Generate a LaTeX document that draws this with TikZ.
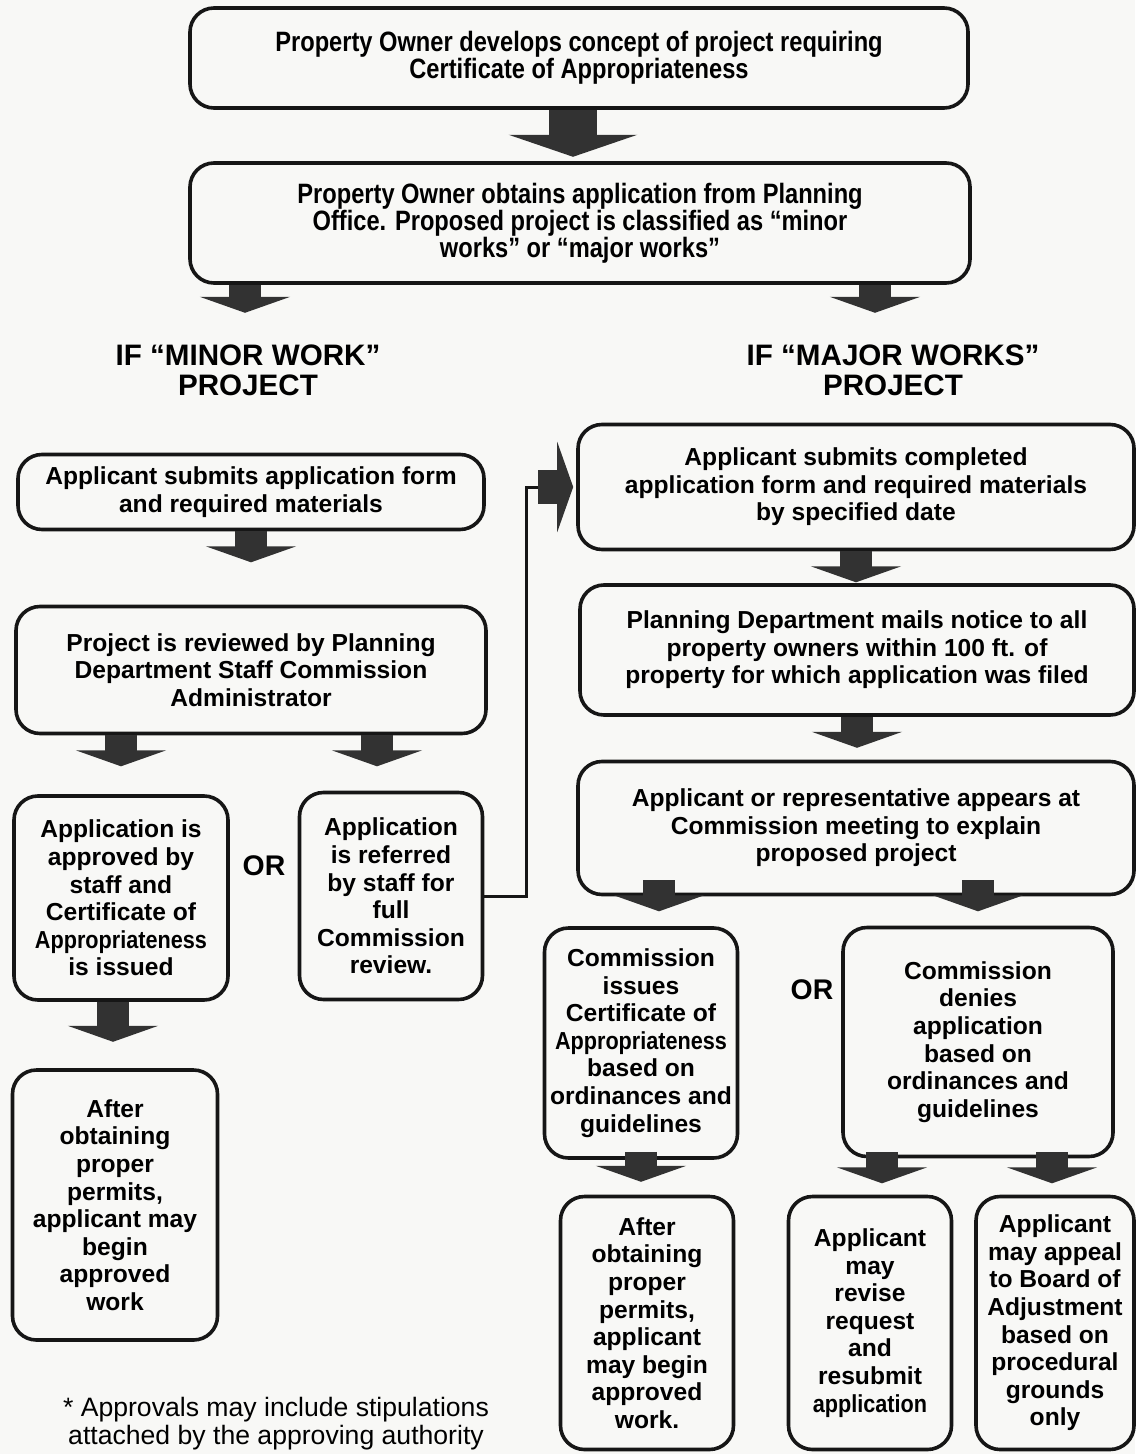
\documentclass[tikz,border=0pt]{standalone}
\usepackage{fontspec}
\setmainfont{Liberation Sans}
\newfontface\narrowfont[FakeStretch=0.845]{Liberation Sans Bold}
\newfontface\tightfont[FakeStretch=0.88]{Liberation Sans Bold}
\usetikzlibrary{arrows.meta,backgrounds}
\definecolor{arrowgray}{RGB}{50,50,50}
\definecolor{inkblack}{RGB}{22,22,22}
\definecolor{paper}{RGB}{248,248,246}

\begin{document}
\begin{tikzpicture}[x=0.5pt, y=-0.5pt,
  stepbox/.style={draw=inkblack, line width=1.8pt, rounded corners=12pt, align=center,
                  inner sep=0pt, font=\fontsize{12.3}{13.8}\selectfont\bfseries},
  topbox/.style={stepbox, font=\narrowfont\fontsize{14}{13.6}\selectfont},
  heading/.style={align=center, font=\fontsize{14.8}{15}\selectfont\bfseries},
  orlabel/.style={font=\fontsize{14.2}{15}\selectfont\bfseries},
  notetext/.style={align=center, font=\fontsize{13.3}{14}\selectfont},
  blockarr/.style={draw=arrowgray, line width=16pt, -{Triangle[length=8pt, width=45pt]}},
  bigarr/.style={draw=arrowgray, line width=24pt, -{Triangle[length=11pt, width=64pt]}},
  sidearr/.style={draw=arrowgray, line width=17pt, -{Triangle[length=8pt, width=45pt]}},
  feedline/.style={draw=inkblack, line width=1.5pt}
]
\useasboundingbox (0,0) rectangle (1135,1454);

% common start
\node[topbox, minimum width=389pt, minimum height=50pt] (concept) at (579,58)
  {Property Owner develops concept of project requiring\\Certificate of Appropriateness};
\node[topbox, minimum width=390pt, minimum height=60pt] (classify) at (580,223)
  {Property Owner obtains application from Planning\\Office. Proposed project is classified as “minor\\works” or “major works”};

\node[heading] (hminor) at (248,370) {IF “MINOR WORK”\\PROJECT};
\node[heading] (hmajor) at (893,370) {IF “MAJOR WORKS”\\PROJECT};

% minor works column
\node[stepbox, minimum width=233pt, minimum height=37.5pt] (submitmin) at (251,492)
  {Applicant submits application form\\and required materials};
\node[stepbox, minimum width=235pt, minimum height=63.5pt] (staffrev) at (251,670)
  {Project is reviewed by Planning\\Department Staff Commission\\Administrator};
\node[stepbox, minimum width=107pt, minimum height=102pt] (approved) at (121,898)
  {Application is\\approved by\\staff and\\Certificate of\\{\tightfont Appropriateness}\\is issued};
\node[orlabel] (orminor) at (264,866) {OR};
\node[stepbox, minimum width=91.5pt, minimum height=103.5pt] (referred) at (391,896)
  {Application\\is referred\\by staff for\\full\\Commission\\review.};
\node[stepbox, minimum width=102.5pt, minimum height=135pt] (beginmin) at (115,1205)
  {After\\obtaining\\proper\\permits,\\applicant may\\begin\\approved\\work};
\node[notetext] (note) at (276,1424)
  {* Approvals may include stipulations\\attached by the approving authority};

% major works column
\node[stepbox, minimum width=278pt, minimum height=62.5pt] (submitmaj) at (856,487)
  {Applicant submits completed\\application form and required materials\\by specified date};
\node[stepbox, minimum width=277pt, minimum height=65pt] (notice) at (857,650)
  {Planning Department mails notice to all\\property owners within 100 ft. of\\property for which application was filed};
\node[stepbox, minimum width=278pt, minimum height=66.5pt] (meeting) at (856,828)
  {Applicant or representative appears at\\Commission meeting to explain\\proposed project};
\node[stepbox, minimum width=96.5pt, minimum height=115pt] (issues) at (641,1043)
  {Commission\\issues\\Certificate of\\{\tightfont Appropriateness}\\based on\\ordinances and\\guidelines};
\node[orlabel] (ormajor) at (812,990) {OR};
\node[stepbox, minimum width=135pt, minimum height=114.5pt] (denies) at (978,1042)
  {Commission\\denies\\application\\based on\\ordinances and\\guidelines};
\node[stepbox, minimum width=86.5pt, minimum height=126.5pt] (beginmaj) at (647,1323)
  {After\\obtaining\\proper\\permits,\\applicant\\may begin\\approved\\work.};
\node[stepbox, minimum width=81.5pt, minimum height=126.5pt] (revise) at (870,1323)
  {Applicant\\may\\revise\\request\\and\\resubmit\\{\tightfont application}};
\node[stepbox, minimum width=79pt, minimum height=126.5pt] (appeal) at (1055,1323)
  {Applicant\\may appeal\\to Board of\\Adjustment\\based on\\procedural\\grounds\\only};

% referral line into the major works path
\coordinate (feedin) at (538,487);
\draw[feedline] (referred.east) -- ++(42,0) |- (feedin);
\draw[sidearr] (feedin) -- ([xshift=-1.5pt]submitmaj.west);

% block arrows
\draw[bigarr] ([xshift=-3pt]concept.south) -- ++(0,47);
\draw[blockarr] ([xshift=-1.5pt]hminor.north |- classify.south) -- ++(0,28);
\draw[blockarr] ([xshift=-9pt]hmajor.north |- classify.south) -- ++(0,28);
\draw[blockarr] (submitmin.south) -- ++(0,31);
\draw[blockarr] (staffrev.south -| approved.north) -- ++(0,31);
\draw[blockarr] ([xshift=-7pt]staffrev.south -| referred.north) -- ++(0,31);
\draw[blockarr] ([xshift=-4pt]approved.south) -- ++(0,40);
\draw[blockarr] (submitmaj.south) -- ++(0,31);
\draw[blockarr] (notice.south) -- ++(0,31);
\draw[blockarr] ([xshift=9pt, yshift=8pt]meeting.south -| issues.north) -- ++(0,31);
\draw[blockarr] ([yshift=8pt]meeting.south -| denies.north) -- ++(0,31);
\draw[blockarr] ([yshift=4pt]issues.south) -- ++(0,30);
\draw[blockarr] ([xshift=6pt, yshift=3pt]denies.south -| revise.north) -- ++(0,31);
\draw[blockarr] ([xshift=-1.5pt, yshift=3pt]denies.south -| appeal.north) -- ++(0,31);

\begin{scope}[on background layer]
  \fill[paper] (0,0) rectangle (1135,1454);
\end{scope}
\end{tikzpicture}
\end{document}
